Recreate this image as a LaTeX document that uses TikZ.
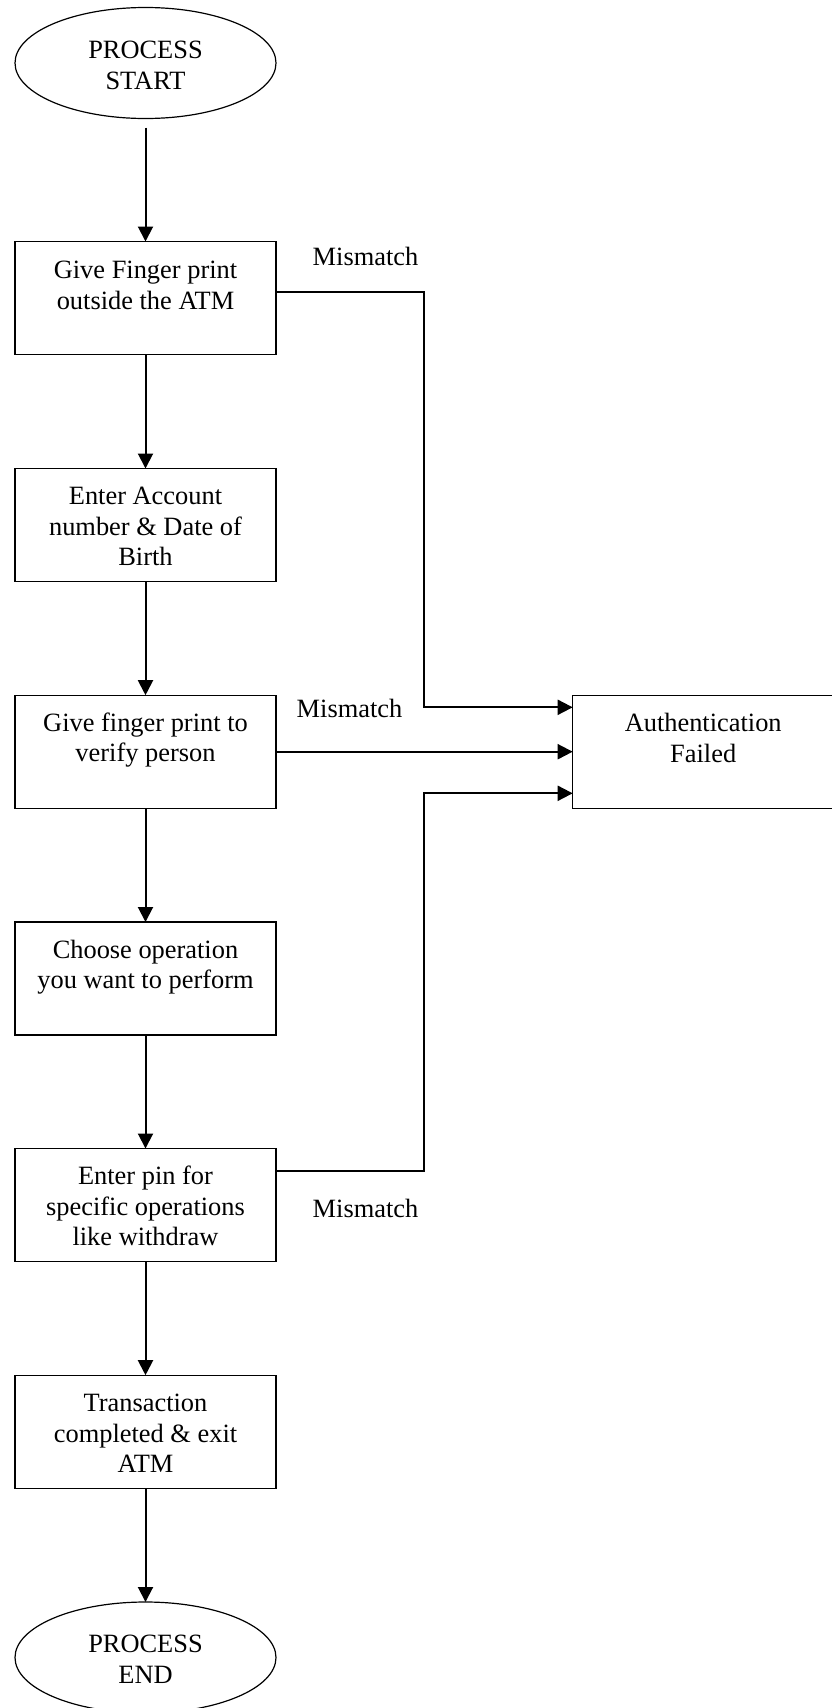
\documentclass[tikz,border=0pt]{standalone}
\usepackage{fontspec}
\setmainfont{Liberation Serif}
\usetikzlibrary{shapes.geometric,arrows.meta}
\newcommand{\lines}[1]{\begin{tabular}[t]{@{}c@{}}#1\end{tabular}}
\begin{document}
\begin{tikzpicture}[x=1pt,y=-1pt,
  boxnode/.style={draw, rectangle, line width=1.2pt, minimum width=261pt, minimum height=113pt, inner sep=0pt, outer sep=0pt},
  ovalnode/.style={draw, ellipse, line width=1.2pt, minimum width=261pt, minimum height=111pt, inner sep=0pt, outer sep=0pt},
  lbl/.style={font=\fontsize{26.4}{30.5}\selectfont, inner sep=0pt, anchor=base},
  conn/.style={line width=2pt, -{Triangle[length=15pt,width=15pt]}},
]
\useasboundingbox (0,0) rectangle (831,1708);
\fill[white] (0,0) rectangle (831,1708);

% shapes
\node[ovalnode] (start) at (145.5,63) {};
\node[boxnode] (b1) at (145.5,298) {};
\node[boxnode] (b2) at (145.5,525) {};
\node[boxnode] (b3) at (145.5,751.7) {};
\node[boxnode] (b4) at (145.5,978.5) {};
\node[boxnode] (b5) at (145.5,1205) {};
\node[boxnode] (b6) at (145.5,1431.7) {};
\node[ovalnode] (end) at (145.5,1657.5) {};
\node[boxnode] (auth) at (703.2,751.7) {};

% texts
\node[lbl] (tstart) at ([yshift=4.5pt]start.center) {\lines{PROCESS\\START}};
\node[lbl] (t1) at ([yshift=-37pt]b1.north) {\lines{Give Finger print\\outside the ATM}};
\node[lbl] (t2) at ([yshift=-36pt]b2.north) {\lines{Enter Account\\number \& Date of\\Birth}};
\node[lbl] (t3) at ([yshift=-36pt]b3.north) {\lines{Give finger print to\\verify person}};
\node[lbl] (t4) at ([yshift=-36pt]b4.north) {\lines{Choose operation\\you want to perform}};
\node[lbl] (t5) at ([yshift=-36pt]b5.north) {\lines{Enter pin for\\specific operations\\like withdraw}};
\node[lbl] (t6) at ([yshift=-36.5pt]b6.north) {\lines{Transaction\\completed \& exit\\ATM}};
\node[lbl] (tend) at ([yshift=5pt]end.center) {\lines{PROCESS\\END}};
\node[lbl] (tauth) at ([yshift=-36.5pt]auth.north) {\lines{Authentication\\Failed}};

\node[lbl] (m1) at (365.5,265.7) {Mismatch};
\node[lbl] (m2) at (349.5,717) {Mismatch};
\node[lbl] (m3) at (365.5,1217.3) {Mismatch};

% main flow
\draw[conn, shorten <=9pt] (start.south) -- (b1.north);
\draw[conn] (b1.south) -- (b2.north);
\draw[conn] (b2.south) -- (b3.north);
\draw[conn] (b3.south) -- (b4.north);
\draw[conn] (b4.south) -- (b5.north);
\draw[conn] (b5.south) -- (b6.north);
\draw[conn] (b6.south) -- (end.north);

% mismatch connectors
\coordinate (bus) at (424.3,0);
\coordinate (p1) at ([yshift=6.3pt]b1.east);
\coordinate (q1) at ([yshift=44.4pt]auth.west);
\coordinate (p5) at ([yshift=34.3pt]b5.east);
\coordinate (q5) at ([yshift=-41.6pt]auth.west);
\draw[conn] (p1) -| (bus |- q1) -- (q1);
\draw[conn] (b3.east) -- (auth.west);
\draw[conn] (p5) -| (bus |- q5) -- (q5);
\end{tikzpicture}
\end{document}
